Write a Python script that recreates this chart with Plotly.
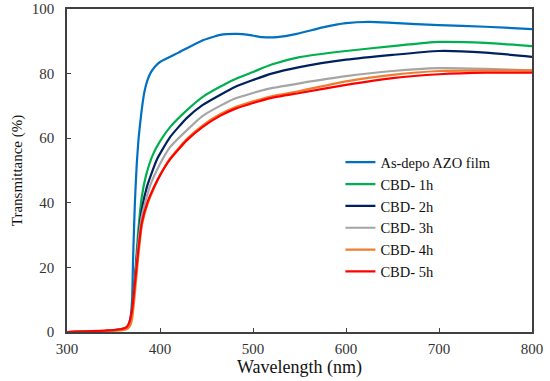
import plotly.graph_objects as go

names = ["As-depo AZO film", "CBD- 1h", "CBD- 2h", "CBD- 3h", "CBD- 4h", "CBD- 5h"]
colors = ["#0070C0", "#00B050", "#002060", "#A5A5A5", "#ED7D31", "#FF0000"]

wl_blue = [300, 340, 360, 365, 368, 370, 371, 373, 375, 377, 380, 383, 386, 390, 395, 400, 420, 445, 465, 483, 495, 510, 526, 547, 575, 600, 625, 650, 700, 750, 800]
t_blue = [0, 0.3, 0.8, 1.5, 4, 10, 22, 40, 52, 60, 68, 74, 77.5, 80.3, 82.3, 83.6, 86.5, 90.2, 92, 92.3, 92, 91.3, 91.3, 92.3, 94.3, 95.6, 96, 95.7, 95, 94.5, 93.8]

wl_1h = [300, 340, 360, 365, 368, 370, 373, 376.5, 380.5, 385, 392.5, 400, 411, 429, 446, 464.5, 480, 500, 520, 550, 600, 650, 700, 750, 800]
t_1h = [0, 0.3, 1, 1.5, 3, 7, 17, 31, 42, 48.5, 55, 59, 63.5, 68.7, 72.8, 75.9, 78.2, 80.5, 82.8, 85.1, 87, 88.5, 89.8, 89.5, 88.5]

wl_2h = [300, 340, 360, 365, 368, 370, 373, 376.5, 380.5, 386, 396.8, 411, 429, 446, 464.5, 480, 500, 520, 550, 600, 650, 700, 750, 800]
t_2h = [0, 0.3, 1, 1.5, 3, 6.5, 16, 28, 38, 45, 53.5, 60.4, 66.3, 70.3, 73.4, 75.8, 78, 80, 82, 84.3, 85.8, 87, 86.5, 85.2]

wl_3h = [300, 340, 360, 365, 368, 370, 373, 376.5, 380.5, 389, 400, 411, 429, 446, 464.5, 480, 500, 520, 550, 600, 650, 700, 750, 800]
t_3h = [0, 0.3, 1, 1.3, 2.5, 6, 15, 27, 36, 45, 52, 57.3, 62.5, 66.9, 70, 72.2, 74, 75.5, 77, 79.2, 80.8, 81.7, 81.5, 81]

wl_4h = [300, 340, 360, 365, 368, 370, 373, 376.5, 380.5, 387, 395, 400, 411, 429, 446, 464.5, 480, 500, 520, 550, 600, 650, 700, 750, 800]
t_4h = [0, 0.3, 0.6, 1, 2, 4, 12, 23, 33, 40, 45.5, 48.5, 53.8, 59.8, 64, 67.4, 69.5, 71.4, 73, 74.6, 77.6, 79.6, 80.8, 81, 81]

wl_5h = [300, 340, 360, 364, 367, 370, 373, 376.5, 380.5, 387, 394.6, 400, 411, 429, 446, 464.5, 480, 500, 520, 550, 600, 650, 700, 750, 800]
t_5h = [0, 0.4, 1, 1.5, 3, 6.8, 15, 25, 34, 40.5, 45.5, 48.5, 53.5, 59.4, 63.5, 66.9, 69, 70.9, 72.5, 74, 76.5, 78.6, 79.8, 80.3, 80.3]

series_x = [wl_blue, wl_1h, wl_2h, wl_3h, wl_4h, wl_5h]
series_y = [t_blue, t_1h, t_2h, t_3h, t_4h, t_5h]

x_ticks = [300, 400, 500, 600, 700, 800]
y_ticks = [0, 20, 40, 60, 80, 100]

SERIF = "Liberation Serif, Times New Roman, serif"

fig = go.Figure()
for n, c, xs, ys in zip(names, colors, series_x, series_y):
    fig.add_trace(go.Scatter(x=xs, y=ys, mode="lines", name=n,
                             line=dict(color=c, width=2.2, shape="spline", smoothing=0.5)))

axis_common = dict(showgrid=False, zeroline=False, showline=True, linecolor="#404040",
                   linewidth=1.5, mirror=True, ticks="inside", ticklen=4, automargin=False,
                   tickcolor="#404040", tickfont=dict(family=SERIF, size=15, color="#333333"))

fig.update_xaxes(range=[300, 800], tickvals=x_ticks, ticklabelstandoff=2,
                 title=dict(text="Wavelength (nm)", font=dict(family=SERIF, size=18, color="#111111"), standoff=2),
                 **axis_common)
fig.update_yaxes(range=[0, 100], tickvals=y_ticks, ticklabelstandoff=8,
                 title=dict(text="Transmittance (%)", font=dict(family=SERIF, size=15, color="#111111"), standoff=6),
                 **axis_common)

fig.update_layout(
    width=550, height=381,
    margin=dict(l=67, r=18, t=9, b=49),
    paper_bgcolor="white", plot_bgcolor="white",
    legend=dict(x=0.588, y=0.575, xanchor="left", yanchor="top",
                font=dict(family=SERIF, size=14.5, color="#111111"),
                bgcolor="rgba(0,0,0,0)", tracegroupgap=0, itemwidth=30),
)

fig.write_html("out.html", config={"displayModeBar": False},
               post_script="document.body.style.margin='0px';")
